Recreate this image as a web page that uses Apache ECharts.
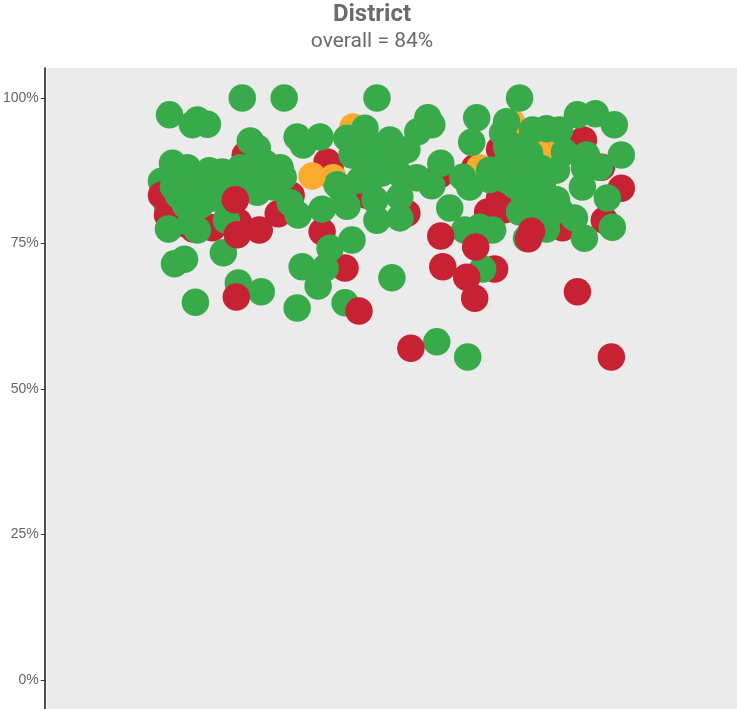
<!DOCTYPE html>
<html><head><meta charset="utf-8">
<style>html,body{margin:0;padding:0;background:#fff}#c{width:737px;height:709px}</style>
<script src="https://cdn.jsdelivr.net/npm/echarts@6/dist/echarts.min.js"></script>
</head><body><div id="c"></div>
<script>
const tickValues = [0, 25, 50, 75, 100];
const amberPos = [288,308,435,467,500,497];
const amberRate = [86.3,95.0,88.0,95.8,91.0,89.5];
const topAmberPos = [267];
const topAmberRate = [86.6];
const backGreenPos = [116,122,193];
const backGreenRate = [85.7,81.5,68.2];
const lowerRedPos = [200,116,282,285,308,322,246,539,557,577,560,518,362,395,430,455,455,443,460,233,148,167,122,193,135,450,300,277];
const lowerRedRate = [90.2,83.3,89.0,88.0,84.5,83.3,83.3,92.8,88.1,84.5,79.0,77.7,80.2,86.8,88.0,91.2,82.8,80.4,80.8,80.1,77.5,77.7,79.9,78.7,78.5,70.6,70.8,77.0];
const greenPos = [124,147,152,162,197,239,332,205,212,252,258,275,302,320,307,127,133,164,152,138,128,163,145,195,205,220,235,238,208,212,175,228,245,253,277,302,292,298,330,332,337,155,123,152,145,181,129,139,178,307,285,257,280,273,216,150,252,300,347,383,387,373,432,462,475,427,488,502,515,533,551,570,577,520,542,555,538,540,563,568,540,530,396,387,372,362,345,358,355,355,418,425,405,420,435,448,445,462,458,478,497,478,498,512,475,492,462,485,462,502,482,438,392,423,345,325,350,315,142,160,177,187,200,217,225,133,140,170,320,327,480,475,470,475,490,500,515,492,445,463,470,465,512];
const greenRate = [97.1,95.4,96.2,95.5,100,100,100,92.6,91.4,93.3,91.9,93.3,93.1,94.8,90.2,88.8,87.8,87.5,86.4,85.9,84.7,85.1,84.2,88.0,88.1,88.8,88.0,86.4,85.9,83.8,85.4,84.7,82.0,79.9,80.9,81.4,85.1,83.7,82.5,79.0,87.1,81.6,77.5,77.3,78.5,79.0,71.5,72.3,73.4,75.6,74.2,71.0,70.8,67.7,66.7,64.9,63.9,64.8,69.1,96.6,95.4,94.2,96.6,95.9,100,92.4,94.5,94.7,94.5,97.1,97.3,95.4,90.2,90.7,90.2,88.1,84.7,88.0,82.8,77.8,75.9,79.4,88.8,84.9,86.3,91.1,92.8,86.4,83.0,79.4,86.4,84.7,81.1,77.3,77.8,77.3,87.6,91.6,94.0,91.6,87.9,85.9,84.7,82.5,80.4,82.5,85.9,90.5,88.8,77.5,75.9,70.6,58.1,55.5,90.2,91.9,88.5,85.9,88.0,86.3,87.3,85.1,86.8,86.3,86.8,83.3,81.6,82.8,89.3,86.3,83.0,89.5,86.8,85.0,82.0,79.5,80.8,86.0,86.0,89.0,85.0,92.0,87.6];
const topRedPos = [190,192,214,191,314,396,431,398,422,430,533,366,567,487,484];
const topRedRate = [82.5,76.5,77.3,65.8,63.4,76.3,74.4,71.0,69.2,65.6,66.7,57.0,55.5,77.1,75.8];
const titleText = "District";
const subtitleText = "overall = 84%";

const pairs = (a, b) => a.map((v, i) => [v, b[i]]);
const dot = (d, color) => ({ type: 'scatter', data: d, symbol: 'circle', symbolSize: 27.5, itemStyle: { color, opacity: 1 }, silent: true, clip: false });
const chart = echarts.init(document.getElementById('c'), null, { renderer: 'canvas' });
chart.setOption({
  animation: false,
  backgroundColor: '#fff',
  title: {
    text: titleText, subtext: subtitleText, left: 367, textAlign: 'center', top: -2, itemGap: 4,
    textStyle: { fontFamily: 'Roboto', fontSize: 24, fontWeight: 'bold', color: '#6b6b6b' },
    subtextStyle: { fontFamily: 'Roboto', fontSize: 21, color: '#6b6b6b' }
  },
  grid: { left: 45, right: 0, top: 68, bottom: 0, show: true, backgroundColor: '#ebebeb', borderWidth: 0 },
  xAxis: { type: 'value', min: 1, max: 693, show: false },
  yAxis: {
    type: 'value', min: -4.98, max: 105.15, offset: 2,
    splitLine: { show: false },
    axisLine: { show: true, onZero: false, lineStyle: { color: '#111', width: 1.5 } },
    axisTick: { show: true, length: 4, customValues: tickValues, lineStyle: { color: '#333', width: 1 } },
    axisLabel: { customValues: tickValues, formatter: v => v + '%', fontFamily: 'Liberation Sans', fontSize: 14, color: '#666', margin: 6 }
  },
  series: [
    dot(pairs(backGreenPos, backGreenRate), '#39aa4a'),
    dot(pairs(lowerRedPos, lowerRedRate), '#c62233'),
    dot(pairs(amberPos, amberRate), '#fbab2d'),
    dot(pairs(greenPos, greenRate), '#39aa4a'),
    dot(pairs(topAmberPos, topAmberRate), '#fbab2d'),
    dot(pairs(topRedPos, topRedRate), '#c62233')
  ]
});
</script></body></html>
